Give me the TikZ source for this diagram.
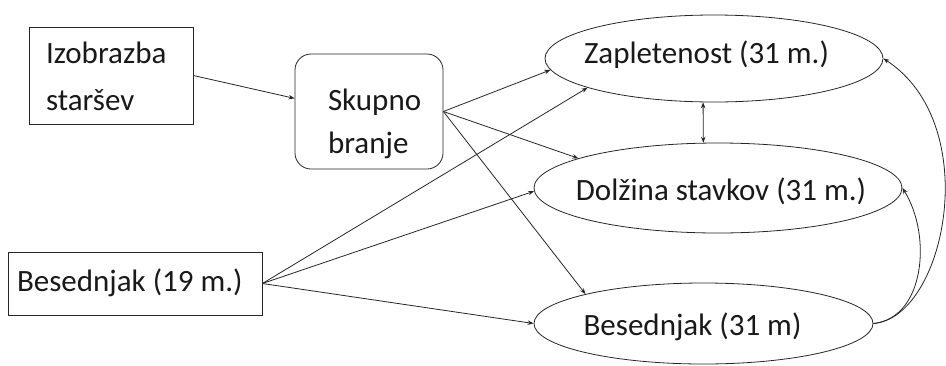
\documentclass[tikz,border=0pt]{standalone}
\usepackage{fontspec}
\setmainfont{Carlito}
\usepackage{array}
\usetikzlibrary{arrows.meta,shapes.geometric}
\tikzset{
  lin/.style={draw=black!85, line width=0.8pt},
  arr/.style={lin, -{Stealth[length=6pt,width=4.5pt]}},
  dbl/.style={lin, {Stealth[length=6pt,width=4.5pt]}-{Stealth[length=6pt,width=4.5pt]}},
  box/.style={lin, rectangle, inner sep=0pt, text=black!90},
  oval/.style={lin, ellipse, inner sep=0pt, text=black!90, font=\fontsize{31}{37}\selectfont},
}
\begin{document}
\begin{tikzpicture}[x=1pt,y=-1pt]
\useasboundingbox (0,0) rectangle (946,365);
% left boxes
\node[box, minimum width=164pt, minimum height=97pt, text height=20pt, text depth=45pt,
      font=\fontsize{31}{47}\selectfont] (izo) at (111,75.5)
  {\begin{tabular}[t]{@{}p{130pt}@{}}Izobrazba\\staršev\end{tabular}};
\node[box, rounded corners=16pt, minimum width=148pt, minimum height=115pt, text height=20pt, text depth=23pt,
      font=\fontsize{31}{43}\selectfont] (sku) at (369,111.5)
  {\begin{tabular}[t]{@{}p{82pt}@{}}Skupno\\branje\end{tabular}};
\node[box, minimum width=254pt, minimum height=63pt, text height=20pt, text depth=4pt,
      font=\fontsize{31}{37}\selectfont] (b19) at (135,283.5)
  {\makebox[236pt][l]{Besednjak (19 m.)}};
% ellipses
\node[oval, minimum width=338pt, minimum height=87pt, text height=20pt, text depth=11pt] (zap) at (714,58.5)
  {\makebox[0pt]{Zapletenost (31 m.)\hspace{15pt}}};
\node[oval, minimum width=368pt, minimum height=90pt, text height=24pt, text depth=0pt] (dol) at (718,188)
  {\makebox[0pt]{\hspace{6pt}Dolžina stavkov (31 m.)}};
\node[oval, minimum width=339pt, minimum height=81pt, text height=24pt, text depth=1pt] (b31) at (703.5,323.5)
  {\makebox[0pt]{Besednjak (31 m)\hspace{22pt}}};
% connectors
\draw[arr] (izo.east) -- (sku.170.4);
\draw[arr] (sku.east) -- (zap.184);
\draw[arr] (sku.east) -- (dol.168);
\draw[arr] (sku.east) -- (b31.166);
\draw[arr] (b19.east) -- (zap.193);
\draw[arr] (b19.east) -- (dol.181);
\draw[arr] (b19.east) -- (b31.west);
\draw[dbl] (zap.256) -- (dol.108);
\draw[arr] (b31.east) .. controls (925,318) and (932,235) .. (dol.east);
\draw[arr] (b31.east) .. controls (945,318) and (985,125) .. (zap.east);
\end{tikzpicture}
\end{document}
